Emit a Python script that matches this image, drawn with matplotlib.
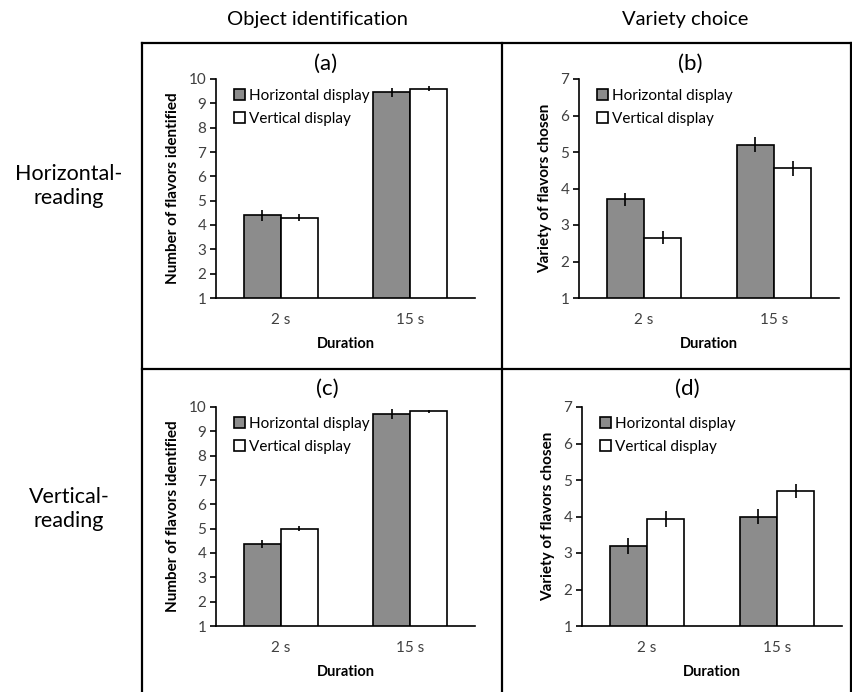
import numpy as np
import matplotlib
matplotlib.use('Agg')
import matplotlib.pyplot as plt
from matplotlib.lines import Line2D

plt.rcParams['font.family'] = ['Lato', 'DejaVu Sans']

W, H = 853, 692

durations = ['2 s', '15 s']
series_names = ['Horizontal display', 'Vertical display']

# (a) object identification, horizontal reading
a_horiz = [4.4, 9.45]
a_horiz_err = [0.22, 0.18]
a_vert = [4.3, 9.6]
a_vert_err = [0.15, 0.11]
# (b) variety choice, horizontal reading
b_horiz = [3.7, 5.2]
b_horiz_err = [0.18, 0.2]
b_vert = [2.65, 4.55]
b_vert_err = [0.18, 0.2]
# (c) object identification, vertical reading
c_horiz = [4.37, 9.7]
c_horiz_err = [0.17, 0.2]
c_vert = [5.0, 9.82]
c_vert_err = [0.1, 0.07]
# (d) variety choice, vertical reading
d_horiz = [3.2, 4.0]
d_horiz_err = [0.22, 0.2]
d_vert = [3.93, 4.7]
d_vert_err = [0.22, 0.18]

grey = '#8c8c8c'
tick_col = '#404040'


def px_axes(fig, l, r, b, t):
    return fig.add_axes([l / W, 1 - b / H, (r - l) / W, (b - t) / H])


def panel(ax, horiz, horiz_err, vert, vert_err, ymax, ylabel):
    x = np.arange(len(durations))
    w = 0.286
    ax.bar(x - w / 2, horiz, w, color=grey, edgecolor='black', linewidth=1.2,
           label=series_names[0], zorder=2)
    ax.bar(x + w / 2, vert, w, color='white', edgecolor='black', linewidth=1.2,
           label=series_names[1], zorder=2)
    ax.errorbar(x - w / 2, horiz, yerr=horiz_err, fmt='none', ecolor='black',
                elinewidth=1.2, capsize=0, zorder=3)
    ax.errorbar(x + w / 2, vert, yerr=vert_err, fmt='none', ecolor='black',
                elinewidth=1.2, capsize=0, zorder=3)
    ax.set_xlim(-0.5, 1.5)
    ax.set_ylim(1, ymax)
    ax.set_yticks(range(1, ymax + 1))
    ax.set_xticks(x)
    ax.set_xticklabels(durations)
    for s in ['top', 'right']:
        ax.spines[s].set_visible(False)
    for s in ['left', 'bottom']:
        ax.spines[s].set_linewidth(1.2)
        ax.spines[s].set_zorder(4)
    ax.tick_params(axis='y', length=4, width=1.2, pad=3, labelsize=11,
                   labelcolor=tick_col)
    ax.tick_params(axis='x', length=0, pad=11, labelsize=11, labelcolor=tick_col)
    ax.set_xlabel('Duration', fontsize=10.5, fontweight='bold', labelpad=7)
    ax.set_ylabel(ylabel, fontsize=11, fontweight='bold', labelpad=6)
    ax.legend(loc='upper left', bbox_to_anchor=(0.04, 0.99), frameon=False,
              fontsize=11, handlelength=0.7, handleheight=0.7,
              handletextpad=0.25, labelspacing=0.6, borderaxespad=0.1)


fig = plt.figure(figsize=(W / 100, H / 100), dpi=100)

ax_a = px_axes(fig, 216, 475, 298, 79)
panel(ax_a, a_horiz, a_horiz_err, a_vert, a_vert_err, 10, 'Number of flavors identified')
ax_b = px_axes(fig, 579, 839, 298, 79)
panel(ax_b, b_horiz, b_horiz_err, b_vert, b_vert_err, 7, 'Variety of flavors chosen')
ax_c = px_axes(fig, 216, 475, 626, 407)
panel(ax_c, c_horiz, c_horiz_err, c_vert, c_vert_err, 10, 'Number of flavors identified')
ax_d = px_axes(fig, 582, 842, 626, 407)
panel(ax_d, d_horiz, d_horiz_err, d_vert, d_vert_err, 7, 'Variety of flavors chosen')

# panel letters
for lab, px, py in [('(a)', 326, 64), ('(b)', 690, 64), ('(c)', 327, 389), ('(d)', 687, 389)]:
    fig.text(px / W, 1 - py / H, lab, ha='center', va='center', fontsize=16)

# column and row headings
fig.text(318 / W, 1 - 20 / H, 'Object identification', ha='center', va='center', fontsize=14.5)
fig.text(685 / W, 1 - 20 / H, 'Variety choice', ha='center', va='center', fontsize=14.5)
fig.text(69 / W, 1 - 186 / H, 'Horizontal-\nreading', ha='center', va='center',
         fontsize=15.5, linespacing=1.2)
fig.text(69 / W, 1 - 509 / H, 'Vertical-\nreading', ha='center', va='center',
         fontsize=15.5, linespacing=1.2)

# grid of boxes
lw = 1.6
for xs, ys in [([142, 142], [43, 692]), ([502.5, 502.5], [43, 692]),
               ([851.5, 851.5], [43, 692]), ([142, 853], [43, 43]),
               ([142, 853], [369, 369])]:
    fig.add_artist(Line2D([v / W for v in xs], [1 - v / H for v in ys],
                          color='black', linewidth=lw))

fig.savefig('out.png', dpi=100)
